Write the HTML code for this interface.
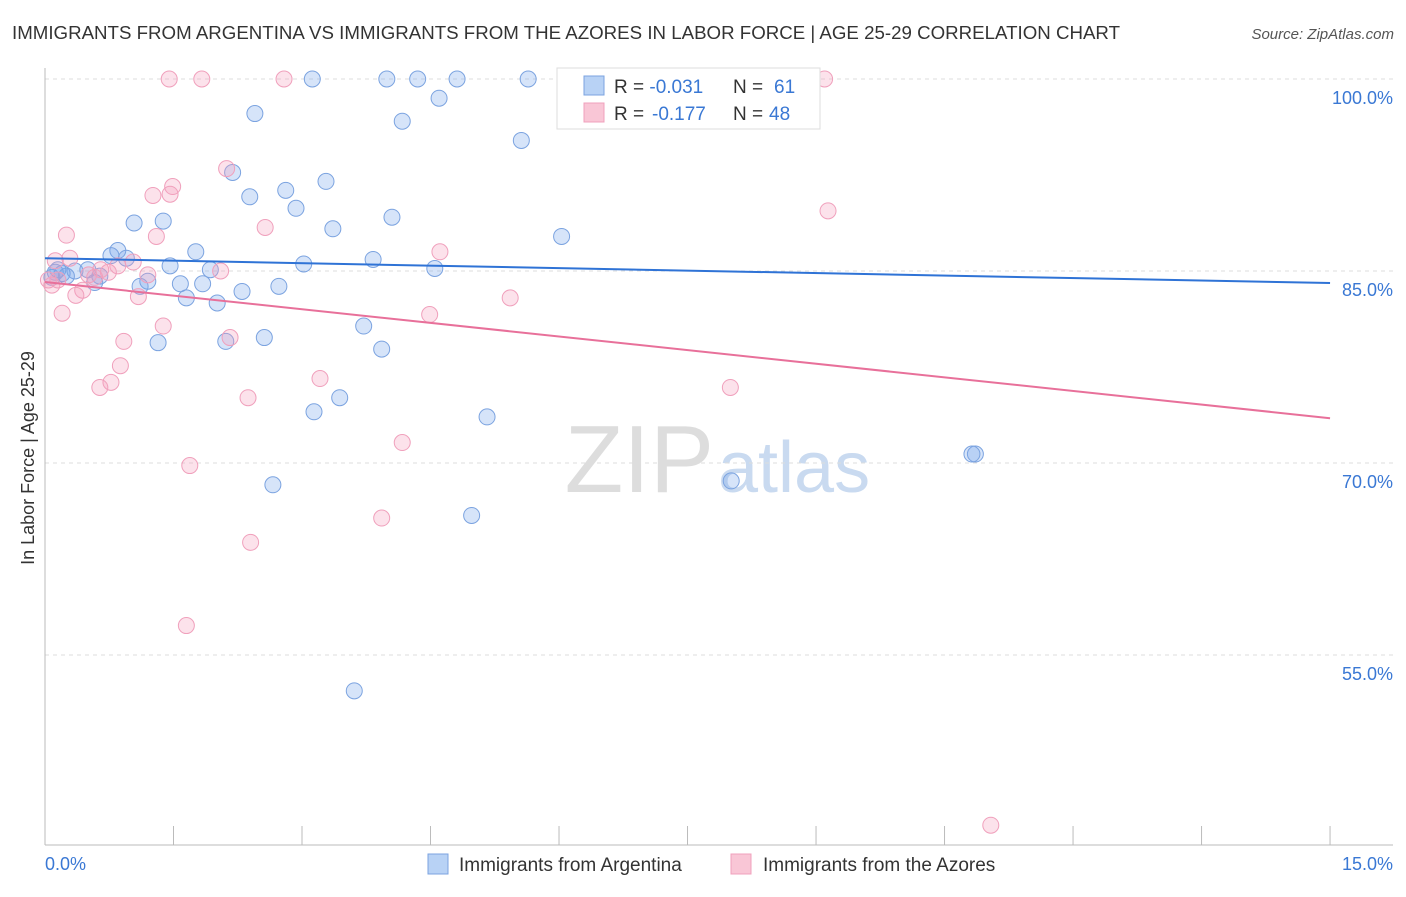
<!DOCTYPE html>
<html><head><meta charset="utf-8"><style>
body{margin:0;background:#fff;font-family:"Liberation Sans",sans-serif;}
svg text{font-family:"Liberation Sans",sans-serif;}
</style></head><body>
<svg id="c" width="1406" height="892" viewBox="0 0 1406 892" xmlns="http://www.w3.org/2000/svg">
<text x="12" y="39" font-size="18" fill="#333" textLength="1108" lengthAdjust="spacingAndGlyphs">IMMIGRANTS FROM ARGENTINA VS IMMIGRANTS FROM THE AZORES IN LABOR FORCE | AGE 25-29 CORRELATION CHART</text>
<text x="1394" y="39" font-size="15" fill="#555" font-style="italic" text-anchor="end">Source: ZipAtlas.com</text>
<text x="714" y="492" font-size="96" fill="#ddd" text-anchor="end" font-family="Liberation Serif">ZIP</text>
<text x="718" y="492" font-size="72" fill="#c9daf0">atlas</text>
<text x="34" y="458" font-size="18" fill="#333" text-anchor="middle" transform="rotate(-90 34 458)">In Labor Force | Age 25-29</text>
<g id="grid"></g><g id="axes"></g><g id="pts"></g><g id="lines"></g>
<g>
<rect x="557" y="68" width="263" height="61" fill="#fff" stroke="#ddd"/>
<rect x="584" y="76" width="20" height="19" fill="#b8d2f5" stroke="#7ba3e0"/>
<rect x="584" y="103" width="20" height="19" fill="#f9c6d6" stroke="#f0a0bc"/>
<text x="614" y="93" font-size="19" fill="#333">R = <tspan fill="#3a78d4">-0.031</tspan></text>
<text x="733" y="93" font-size="19" fill="#333">N = <tspan x="774" fill="#3a78d4">61</tspan></text>
<text x="614" y="120" font-size="19" fill="#333">R = <tspan x="652" fill="#3a78d4">-0.177</tspan></text>
<text x="733" y="120" font-size="19" fill="#333">N = <tspan x="769" fill="#3a78d4">48</tspan></text>
</g>
<rect x="428" y="854" width="20" height="20" fill="#b8d2f5" stroke="#7ba3e0"/>
<text x="459" y="871" font-size="19" fill="#333">Immigrants from Argentina</text>
<rect x="731" y="854" width="20" height="20" fill="#f9c6d6" stroke="#f0a0bc"/>
<text x="763" y="871" font-size="19" fill="#333">Immigrants from the Azores</text>
</svg>
<script>
const xTicks=[0,1.5,3,4.5,6,7.5,9,10.5,12,13.5,15];
const yTicks=[100,85,70,55];
const yTickLabels=["100.0%","85.0%","70.0%","55.0%"];
const xTickLabels=["0.0%","15.0%"];
const argX=[3.12,3.99,4.35,4.81,5.64,6.23,8.95,2.45,4.60,4.17,5.56,2.19,2.81,3.28,2.39,2.93,1.04,1.38,4.05,3.36,6.03,0.85,0.77,0.95,1.76,1.46,3.02,3.83,4.55,1.93,0.12,0.20,0.35,0.50,0.64,0.58,1.20,1.11,1.58,1.84,1.65,2.30,2.73,2.01,3.72,2.11,2.56,1.32,3.93,3.44,3.14,5.16,10.86,10.82,8.01,2.66,4.98,3.61,0.08,0.15,0.25];
const argY=[100,100,100,100,100,100,100,97.3,98.5,96.7,95.2,92.7,91.3,92.0,90.8,89.9,88.75,88.9,89.2,88.3,87.7,86.6,86.2,86.0,86.5,85.4,85.55,85.9,85.2,85.1,84.9,84.8,85.0,85.1,84.6,84.1,84.2,83.8,84.0,84.0,82.9,83.4,83.8,82.5,80.7,79.5,79.8,79.4,78.9,75.1,74.0,73.6,70.7,70.7,68.6,68.3,65.9,52.2,84.5,85.1,84.6];
const azoX=[1.45,1.83,2.79,7.16,9.10,2.12,1.49,1.46,1.26,9.14,2.57,0.25,1.30,4.61,0.29,0.12,0.65,0.85,1.03,1.20,2.05,0.51,0.44,0.36,1.09,5.43,0.20,4.49,1.38,2.16,0.92,0.88,0.77,0.64,3.21,8.00,2.37,4.17,1.69,3.93,2.40,1.65,11.04,0.08,0.15,0.58,0.74,0.04];
const azoY=[100,100,100,100,100,93.0,91.6,91.0,90.9,89.7,88.4,87.8,87.7,86.5,86.0,85.8,85.1,85.4,85.7,84.7,85.0,84.7,83.5,83.1,83.0,82.9,81.7,81.6,80.7,79.8,79.5,77.6,76.3,75.9,76.6,75.9,75.1,71.6,69.8,65.7,63.8,57.3,41.7,83.9,84.3,84.5,84.9,84.3];
const argTrend=[86.0,84.06];
const azoTrend=[84.14,73.5];
const NS="http://www.w3.org/2000/svg";
const sx=v=>45+v*85.67, sy=v=>79+(100-v)*12.8;
function mk(t,a,p){const e=document.createElementNS(NS,t);for(const k in a)e.setAttribute(k,a[k]);p.appendChild(e);return e;}
const grid=document.getElementById('grid'),axes=document.getElementById('axes'),pts=document.getElementById('pts'),lines=document.getElementById('lines');
yTicks.forEach((v,i)=>{
 const l=mk('line',{x1:45,x2:1393,y1:sy(v),y2:sy(v),stroke:'#ddd','stroke-dasharray':'4,4'},grid);
 
 
 const t=mk('text',{x:1393,y:sy(v)+25,'font-size':18,fill:'#3a78d4','text-anchor':'end'},axes);
 t.textContent=yTickLabels[i];
 
 
});
const ax=mk('line',{x1:45,x2:45,y1:68,y2:845,stroke:'#bbb'},axes);


const bx=mk('line',{x1:45,x2:1393,y1:845,y2:845,stroke:'#bbb'},axes);


xTicks.forEach(v=>{
 const l=mk('line',{x1:sx(v),x2:sx(v),y1:826,y2:845,stroke:'#bbb'},axes);
 
 
});
const t0=mk('text',{x:45,y:870,'font-size':18,fill:'#3a78d4'},axes);t0.textContent=xTickLabels[0];


const t1=mk('text',{x:1393,y:870,'font-size':18,fill:'#3a78d4','text-anchor':'end'},axes);t1.textContent=xTickLabels[1];


argX.forEach((v,i)=>{
 const c=mk('circle',{cx:sx(v),cy:sy(argY[i]),r:8,fill:'rgba(120,165,235,0.3)',stroke:'#7ba3e0','stroke-width':1},pts);
 
 
});
azoX.forEach((v,i)=>{
 const c=mk('circle',{cx:sx(v),cy:sy(azoY[i]),r:8,fill:'rgba(245,160,190,0.3)',stroke:'#f0a0bc','stroke-width':1},pts);
 
 
});
const la=mk('line',{x1:sx(0),x2:sx(15),y1:sy(argTrend[0]),y2:sy(argTrend[1]),stroke:'#2f73d6','stroke-width':2},lines);


const lz=mk('line',{x1:sx(0),x2:sx(15),y1:sy(azoTrend[0]),y2:sy(azoTrend[1]),stroke:'#e8709a','stroke-width':2},lines);


</script>
</body></html>
